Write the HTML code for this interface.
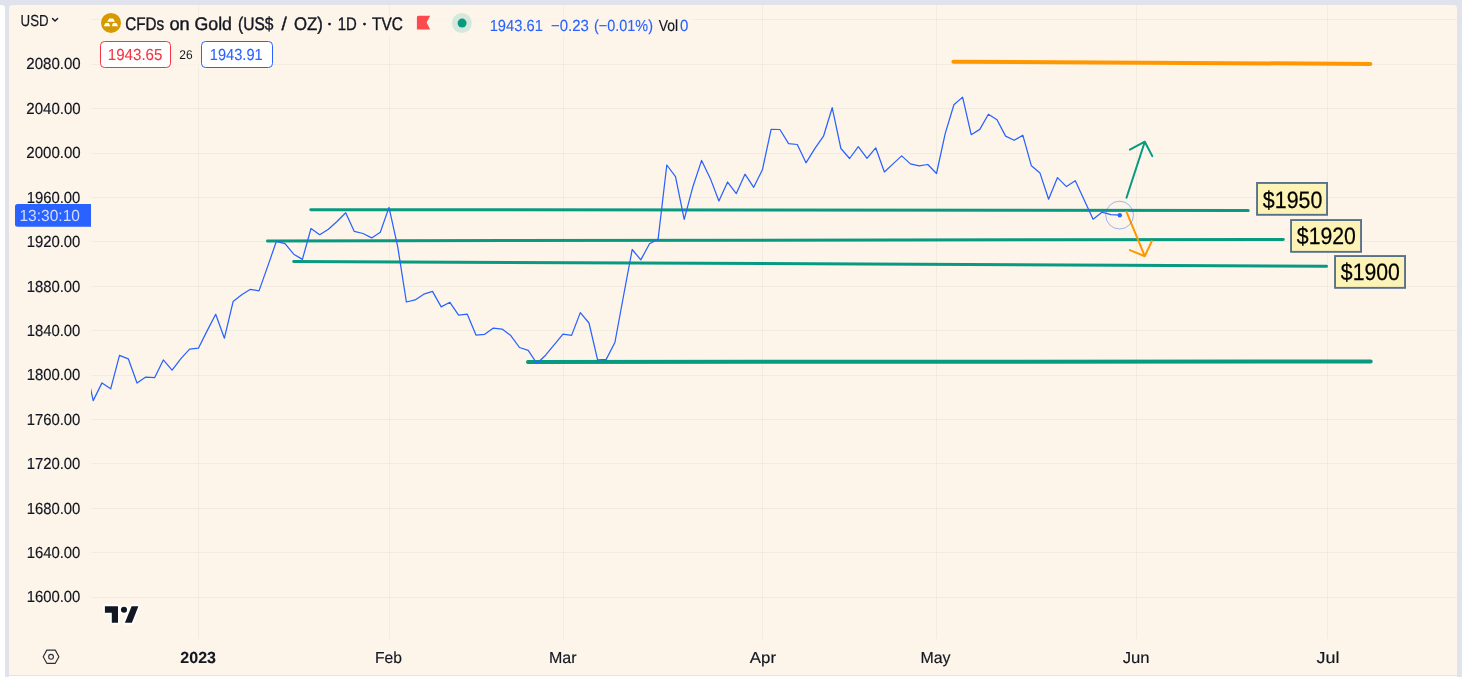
<!DOCTYPE html>
<html><head><meta charset="utf-8"><title>CFDs on Gold</title>
<style>
html,body{margin:0;padding:0;background:#e0e3eb;overflow:hidden}
body{width:1462px;height:677px;font-family:"Liberation Sans",sans-serif}
svg{display:block;will-change:transform}
text{font-family:"Liberation Sans",sans-serif;text-rendering:geometricPrecision}
</style></head><body>
<svg width="1462" height="677" viewBox="0 0 1462 677">
<rect width="1462" height="677" fill="#e0e3eb"/>
<path d="M0 5H1.5A3.5 3.5 0 0 1 5 8.5V677H0Z" fill="#ffffff"/>
<rect x="9" y="676" width="1448" height="1" fill="#ffffff"/>
<path d="M9 675V8.5A3.5 3.5 0 0 1 12.5 5H1453.5A3.5 3.5 0 0 1 1457 8.5V675Z" fill="#fdf5e9"/>
<g stroke="rgba(50,105,85,0.062)" stroke-width="1" shape-rendering="crispEdges"><line x1="91" y1="19.5" x2="1457" y2="19.5"/><line x1="91" y1="64.5" x2="1457" y2="64.5"/><line x1="91" y1="108.5" x2="1457" y2="108.5"/><line x1="91" y1="153.5" x2="1457" y2="153.5"/><line x1="91" y1="197.5" x2="1457" y2="197.5"/><line x1="91" y1="241.5" x2="1457" y2="241.5"/><line x1="91" y1="286.5" x2="1457" y2="286.5"/><line x1="91" y1="330.5" x2="1457" y2="330.5"/><line x1="91" y1="375.5" x2="1457" y2="375.5"/><line x1="91" y1="419.5" x2="1457" y2="419.5"/><line x1="91" y1="463.5" x2="1457" y2="463.5"/><line x1="91" y1="508.5" x2="1457" y2="508.5"/><line x1="91" y1="552.5" x2="1457" y2="552.5"/><line x1="91" y1="597.5" x2="1457" y2="597.5"/><line x1="198.5" y1="5" x2="198.5" y2="638.5"/><line x1="389.5" y1="5" x2="389.5" y2="638.5"/><line x1="563.5" y1="5" x2="563.5" y2="638.5"/><line x1="762.5" y1="5" x2="762.5" y2="638.5"/><line x1="936.5" y1="5" x2="936.5" y2="638.5"/><line x1="1136.5" y1="5" x2="1136.5" y2="638.5"/><line x1="1327.5" y1="5" x2="1327.5" y2="638.5"/></g>
<rect x="99" y="14.5" width="594.5" height="22.5" fill="#fdf5e9" fill-opacity="0.8"/><rect x="99" y="37" width="174.5" height="31.5" fill="#fdf5e9" fill-opacity="0.8"/>
<clipPath id="pane"><rect x="91" y="5" width="1366" height="634"/></clipPath>
<g clip-path="url(#pane)">
<g stroke="#089981" stroke-width="3" stroke-linecap="round" fill="none">
<line x1="310.8" y1="209.7" x2="1248.2" y2="210.4"/>
<line x1="267.5" y1="241.0" x2="1283.3" y2="239.4"/>
<line x1="293.7" y1="261.4" x2="1326.6" y2="266.2"/>
<line x1="528" y1="362.0" x2="1370.7" y2="361.5" stroke-width="4"/>
</g>
<line x1="953.4" y1="61.7" x2="1370.3" y2="63.9" stroke="#ff9800" stroke-width="4" stroke-linecap="round"/>
<polyline points="84.6,361.9 93.2,400.6 102.0,382.9 110.7,388.8 119.5,355.3 128.3,358.8 137.0,383.0 145.8,377.1 154.6,377.7 163.3,359.9 172.1,370.2 180.9,358.6 189.6,349.2 198.4,348.2 207.1,330.9 215.7,314.3 224.4,338.2 233.1,301.6 241.7,294.7 250.4,289.3 259.0,290.9 267.7,266.4 276.4,241.3 285.0,243.7 293.7,254.2 302.4,259.4 311.0,228.5 319.7,234.7 328.4,229.2 337.0,221.5 345.7,212.8 354.3,231.4 363.0,233.5 371.7,237.9 380.3,232.2 389.0,207.4 397.7,246.7 406.4,302.0 415.1,299.9 423.8,294.2 432.5,291.4 441.2,306.9 449.9,302.3 458.6,315.2 467.3,314.2 476.0,335.1 484.7,334.3 493.4,328.1 502.1,329.1 510.8,335.6 519.5,347.5 528.2,350.3 536.9,363.5 545.6,355.2 554.3,344.7 563.0,334.2 571.6,335.4 580.3,312.6 589.0,323.0 597.6,359.8 606.2,359.4 614.9,342.5 623.5,296.0 632.2,249.5 640.8,259.9 649.5,243.7 658.1,239.1 666.8,165.0 675.5,176.7 684.2,219.3 692.9,186.7 701.6,160.4 710.3,178.4 718.9,201.0 727.6,182.0 736.3,193.6 745.0,174.2 753.7,187.3 762.4,169.8 771.1,129.3 779.9,129.5 788.6,143.7 797.3,144.5 806.0,162.8 814.8,148.7 823.5,136.2 832.2,107.7 840.9,148.5 849.6,158.5 858.3,146.7 867.0,158.3 875.7,147.8 884.4,172.0 893.0,163.9 901.7,155.9 910.4,163.9 919.1,165.9 927.8,164.5 936.5,173.5 945.2,133.6 953.9,104.8 962.6,97.1 971.2,134.7 979.8,129.4 988.4,114.2 997.0,119.8 1005.6,136.1 1014.2,140.3 1022.8,135.2 1031.4,165.8 1040.0,173.1 1048.6,199.2 1057.5,177.6 1066.4,186.6 1075.3,180.7 1084.2,200.1 1093.1,219.2 1102.0,212.2 1110.9,214.7 1119.8,215.2" fill="none" stroke="#2962ff" stroke-width="1.25" stroke-linejoin="round" stroke-linecap="round"/>
<g stroke="#089981" stroke-width="2" stroke-linecap="round" stroke-linejoin="round" fill="none">
<path d="M1126.5 197.8L1144.8 141.7M1129.9 149.6L1144.8 141.7L1152.3 156.1"/>
</g>
<g stroke="#ff9800" stroke-width="2" stroke-linecap="round" stroke-linejoin="round" fill="none">
<path d="M1126.5 211.9L1144.8 256.2M1129.9 250.1L1144.8 256.2L1151.8 241.1"/>
</g>
<circle cx="1119.6" cy="215.1" r="13.9" fill="none" stroke="#2962ff" stroke-opacity="0.45" stroke-width="1"/>
<circle cx="1119.8" cy="215.2" r="2.2" fill="#2962ff"/>
</g>
<g stroke="#58718b" stroke-width="1.9" fill="#fef3b7">
<rect x="1257.05" y="182.95" width="70" height="31.85"/>
<rect x="1291.05" y="220.05" width="70" height="31.8"/>
<rect x="1335.05" y="256.05" width="70" height="31.8"/>
</g>
<text x="1262.85" y="207.5" font-size="23.7" fill="#000000" stroke="#000000" stroke-width="0.25" textLength="59.47" lengthAdjust="spacingAndGlyphs">$1950</text><text x="1296.85" y="244.35" font-size="23.7" fill="#000000" stroke="#000000" stroke-width="0.25" textLength="59.05" lengthAdjust="spacingAndGlyphs">$1920</text><text x="1340.85" y="280.35" font-size="23.7" fill="#000000" stroke="#000000" stroke-width="0.25" textLength="59.05" lengthAdjust="spacingAndGlyphs">$1900</text>
<text x="26.32" y="69.0" font-size="16" fill="#131722" stroke="#131722" stroke-width="0.18" textLength="54.34" lengthAdjust="spacingAndGlyphs">2080.00</text><text x="26.32" y="114.0" font-size="16" fill="#131722" stroke="#131722" stroke-width="0.18" textLength="54.34" lengthAdjust="spacingAndGlyphs">2040.00</text><text x="26.32" y="158.4" font-size="16" fill="#131722" stroke="#131722" stroke-width="0.18" textLength="54.34" lengthAdjust="spacingAndGlyphs">2000.00</text><text x="26.63" y="202.8" font-size="16" fill="#131722" stroke="#131722" stroke-width="0.18" textLength="53.74" lengthAdjust="spacingAndGlyphs">1960.00</text><text x="26.63" y="247.2" font-size="16" fill="#131722" stroke="#131722" stroke-width="0.18" textLength="53.74" lengthAdjust="spacingAndGlyphs">1920.00</text><text x="26.63" y="291.6" font-size="16" fill="#131722" stroke="#131722" stroke-width="0.18" textLength="53.74" lengthAdjust="spacingAndGlyphs">1880.00</text><text x="26.63" y="336.0" font-size="16" fill="#131722" stroke="#131722" stroke-width="0.18" textLength="53.74" lengthAdjust="spacingAndGlyphs">1840.00</text><text x="26.63" y="380.4" font-size="16" fill="#131722" stroke="#131722" stroke-width="0.18" textLength="53.74" lengthAdjust="spacingAndGlyphs">1800.00</text><text x="26.63" y="424.8" font-size="16" fill="#131722" stroke="#131722" stroke-width="0.18" textLength="53.74" lengthAdjust="spacingAndGlyphs">1760.00</text><text x="26.63" y="469.2" font-size="16" fill="#131722" stroke="#131722" stroke-width="0.18" textLength="53.74" lengthAdjust="spacingAndGlyphs">1720.00</text><text x="26.63" y="513.6" font-size="16" fill="#131722" stroke="#131722" stroke-width="0.18" textLength="53.74" lengthAdjust="spacingAndGlyphs">1680.00</text><text x="26.63" y="558.0" font-size="16" fill="#131722" stroke="#131722" stroke-width="0.18" textLength="53.74" lengthAdjust="spacingAndGlyphs">1640.00</text><text x="26.63" y="602.4" font-size="16" fill="#131722" stroke="#131722" stroke-width="0.18" textLength="53.74" lengthAdjust="spacingAndGlyphs">1600.00</text>
<path d="M17.5 204H91V226.7H17.5A2.5 2.5 0 0 1 15 224.2V206.5A2.5 2.5 0 0 1 17.5 204Z" fill="#2962ff"/>
<text x="19.47" y="221.0" font-size="16" fill="#d1dcff" textLength="60.48" lengthAdjust="spacingAndGlyphs">13:30:10</text><text x="20.59" y="26.0" font-size="16" fill="#131722" stroke="#131722" stroke-width="0.18" textLength="28.00" lengthAdjust="spacingAndGlyphs">USD</text>
<path d="M52.5 18.6L55 21.1L57.6 18.6" fill="none" stroke="#131722" stroke-width="1.45" stroke-linecap="round" stroke-linejoin="round"/>
<circle cx="111" cy="22.9" r="10" fill="#d69a00"/>
<path d="M109.3 18.4H113.05L115.05 21.7H107.1ZM105.5 23.0H108.85L110.25 26.25H103.7ZM113.05 23.0H116.4L118.2 26.25H111.75Z" fill="#ffffff"/>
<text x="125.32" y="29.8" font-size="18.3" fill="#131722" stroke="#131722" stroke-width="0.4" textLength="38.93" lengthAdjust="spacingAndGlyphs">CFDs</text><text x="169.44" y="29.8" font-size="18.3" fill="#131722" stroke="#131722" stroke-width="0.4" textLength="20.26" lengthAdjust="spacingAndGlyphs">on</text><text x="194.54" y="29.8" font-size="18.3" fill="#131722" stroke="#131722" stroke-width="0.4" textLength="37.46" lengthAdjust="spacingAndGlyphs">Gold</text><text x="238.05" y="29.8" font-size="18.3" fill="#131722" stroke="#131722" stroke-width="0.4" textLength="35.39" lengthAdjust="spacingAndGlyphs">(US$</text><text x="281.60" y="29.8" font-size="18.3" fill="#131722" stroke="#131722" stroke-width="0.4" textLength="5.35" lengthAdjust="spacingAndGlyphs">/</text><text x="294.07" y="29.8" font-size="18.3" fill="#131722" stroke="#131722" stroke-width="0.4" textLength="28.88" lengthAdjust="spacingAndGlyphs">OZ)</text><text x="337.82" y="29.8" font-size="18.3" fill="#131722" stroke="#131722" stroke-width="0.4" textLength="19.03" lengthAdjust="spacingAndGlyphs">1D</text><text x="372.11" y="29.8" font-size="18.3" fill="#131722" stroke="#131722" stroke-width="0.4" textLength="30.84" lengthAdjust="spacingAndGlyphs">TVC</text>
<circle cx="329.5" cy="24.1" r="1.45" fill="#131722"/><circle cx="364.5" cy="24.1" r="1.45" fill="#131722"/>
<path d="M418.4 15.8H430.2L426.6 22.6L430.2 29.4H416.9V17.3A1.5 1.5 0 0 1 418.4 15.8Z" fill="#ff4a4d"/>
<circle cx="461.9" cy="23.1" r="10" fill="#d4e9dc"/>
<circle cx="462.1" cy="23.1" r="4.5" fill="#089981"/>
<text x="489.70" y="30.8" font-size="16" fill="#2962ff" stroke="#2962ff" stroke-width="0.12" textLength="53.14" lengthAdjust="spacingAndGlyphs">1943.61</text><text x="551.06" y="30.8" font-size="16" fill="#2962ff" stroke="#2962ff" stroke-width="0.12" textLength="37.74" lengthAdjust="spacingAndGlyphs">−0.23</text><text x="594.06" y="30.8" font-size="16" fill="#2962ff" stroke="#2962ff" stroke-width="0.12" textLength="58.90" lengthAdjust="spacingAndGlyphs">(−0.01%)</text><text x="658.86" y="30.8" font-size="16" fill="#131722" stroke="#131722" stroke-width="0.18" textLength="19.33" lengthAdjust="spacingAndGlyphs">Vol</text><text x="679.96" y="30.8" font-size="16" fill="#2962ff" stroke="#2962ff" stroke-width="0.12" textLength="8.35" lengthAdjust="spacingAndGlyphs">0</text>
<rect x="100.5" y="41.5" width="70" height="26" rx="4" fill="#ffffff" stroke="#f23645" stroke-width="1"/>
<rect x="201.5" y="41.5" width="71" height="26" rx="4" fill="#ffffff" stroke="#2962ff" stroke-width="1"/>
<text x="107.83" y="60.0" font-size="16" fill="#f23645" stroke="#f23645" stroke-width="0.1" textLength="54.55" lengthAdjust="spacingAndGlyphs">1943.65</text><text x="179.23" y="59.0" font-size="12.6" fill="#131722" textLength="13.32" lengthAdjust="spacingAndGlyphs">26</text><text x="209.86" y="60.0" font-size="16" fill="#2962ff" stroke="#2962ff" stroke-width="0.1" textLength="52.77" lengthAdjust="spacingAndGlyphs">1943.91</text>
<g fill="#ffffff" stroke="#ffffff" stroke-width="3.6" stroke-linejoin="round"><path d="M104.9 606.3H118V622.8H111.8V612.8H104.9Z"/><path d="M131.6 606.3H138.4L131.9 622.8H124.9Z"/><circle cx="124" cy="609.8" r="3"/></g>
<g fill="#131722"><path d="M104.9 606.3H118V622.8H111.8V612.8H104.9Z"/><path d="M131.6 606.3H138.4L131.9 622.8H124.9Z"/><circle cx="124" cy="609.8" r="3.05"/></g>
<path d="M43.2 656.7L46.8 650.1H55.3L58.9 656.7L55.3 663.3H46.8Z" fill="none" stroke="#2a2e39" stroke-width="1.15" stroke-linejoin="round"/>
<circle cx="51.05" cy="656.8" r="2.4" fill="none" stroke="#2a2e39" stroke-width="1.1"/>
<text x="180.32" y="663.0" font-size="16" fill="#131722" font-weight="bold" stroke="#131722" stroke-width="0.1" textLength="35.64" lengthAdjust="spacingAndGlyphs">2023</text><text x="375.09" y="663.0" font-size="16" fill="#131722" stroke="#131722" stroke-width="0.18" textLength="26.89" lengthAdjust="spacingAndGlyphs">Feb</text><text x="548.94" y="663.0" font-size="16" fill="#131722" stroke="#131722" stroke-width="0.18" textLength="27.57" lengthAdjust="spacingAndGlyphs">Mar</text><text x="749.89" y="663.0" font-size="16" fill="#131722" stroke="#131722" stroke-width="0.18" textLength="26.15" lengthAdjust="spacingAndGlyphs">Apr</text><text x="920.39" y="663.0" font-size="16" fill="#131722" stroke="#131722" stroke-width="0.18" textLength="30.06" lengthAdjust="spacingAndGlyphs">May</text><text x="1122.78" y="663.0" font-size="16" fill="#131722" stroke="#131722" stroke-width="0.18" textLength="26.81" lengthAdjust="spacingAndGlyphs">Jun</text><text x="1316.64" y="663.0" font-size="16" fill="#131722" stroke="#131722" stroke-width="0.18" textLength="22.81" lengthAdjust="spacingAndGlyphs">Jul</text>
</svg>
</body></html>
